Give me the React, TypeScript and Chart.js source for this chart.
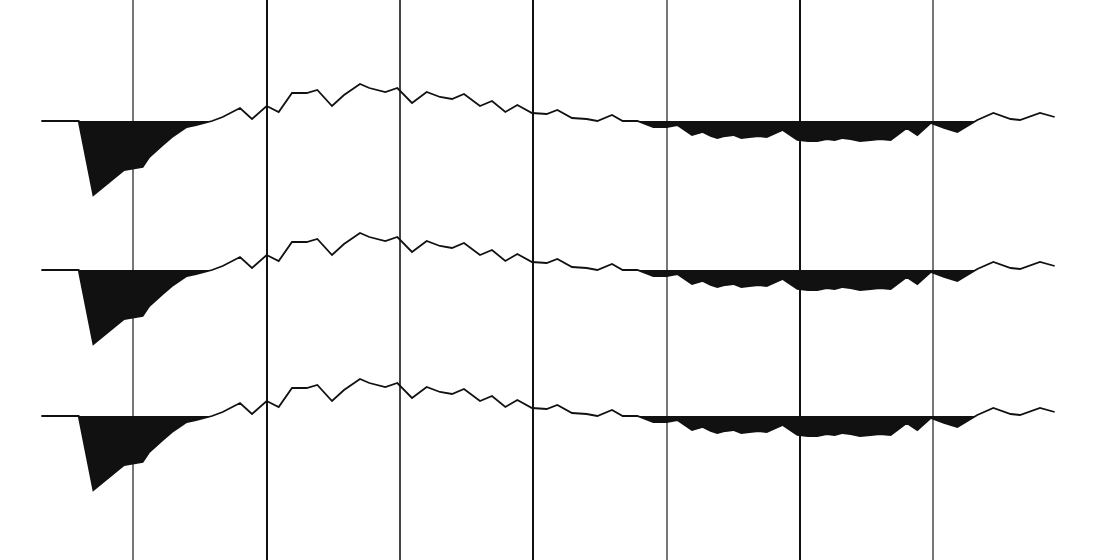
import { useEffect, useRef } from "react";
import { Chart, registerables } from "chart.js";

Chart.register(...registerables);

// sample times (ms) and trace amplitude (same wavelet on every trace)
const times = [
  31, 59, 70, 93, 107, 112, 122, 129, 140, 147, 159, 167, 180, 189, 200, 209,
  219, 230, 238, 249, 258, 270, 277, 289, 298, 309, 320, 330, 339, 348, 360,
  369, 379, 388, 399, 410, 418, 429, 440, 448, 459, 467, 478, 490, 500, 508,
  519, 527, 533, 538, 544, 550, 556, 562, 569, 575, 587, 598, 606, 613, 620,
  626, 632, 638, 645, 653, 660, 668, 680, 688, 698, 708, 718, 733, 745, 758,
  765, 780, 791,
];
const amplitude = [
  0, 0, -74, -49, -46, -36, -24, -16, -6, -4, 0, 4, 13, 2, 15, 9,
  28, 28, 31, 15, 26, 37, 33, 29, 33, 18, 29, 24, 22, 27, 15,
  20, 9, 16, 8, 7, 11, 3, 2, 0, 6, 0, 0, -6, -6, -4,
  -14, -11, -15, -17, -15, -14, -17, -16, -15, -16, -9, -19, -20, -20, -18,
  -19, -17, -18, -20, -19, -18, -19, -7, -14, -2, -7, -11, 1, 8, 2,
  1, 8, 4,
];
// baseline of each trace on the vertical axis
const traceBaselines = [439, 290, 144];
// vertical timing lines
const timingLines = [100, 200, 300, 400, 500, 600, 700];
const timingColors = ["#777", "#111", "#444", "#111", "#777", "#111", "#777"];

export default function App() {
  const chartRef = useRef<HTMLCanvasElement | null>(null);

  useEffect(() => {
    document.body.style.margin = "0";
    if (!chartRef.current) return;
    const ctx = chartRef.current.getContext("2d");
    if (!ctx) return;

    const datasets = traceBaselines.map((base, i) => ({
      label: `trace ${i + 1}`,
      data: times.map((t, k) => ({ x: t, y: base + amplitude[k] })),
      borderColor: "#111",
      borderWidth: 1.8,
      pointRadius: 0,
      tension: 0,
      fill: {
        target: { value: base },
        above: "rgba(0,0,0,0)",
        below: "#111",
      },
    }));

    const chart = new Chart(ctx, {
      type: "line",
      data: { datasets },
      options: {
        animation: false,
        responsive: false,
        layout: { padding: 0 },
        plugins: {
          legend: { display: false },
          tooltip: { enabled: false },
        },
        scales: {
          x: {
            type: "linear",
            min: 0,
            max: 825,
            afterBuildTicks: (scale: any) => {
              scale.ticks = timingLines.map((v) => ({ value: v }));
            },
            ticks: { display: false, padding: 0 },
            border: { display: false },
            grid: {
              drawTicks: false,
              lineWidth: 2,
              color: (c: any) => timingColors[c.index] ?? "#555",
            },
          },
          y: {
            display: false,
            min: 0,
            max: 560,
          },
        },
      },
    });

    return () => {
      chart.destroy();
    };
  }, []);

  return (
    <div style={{ width: 1100, height: 560, background: "#fff" }}>
      <canvas ref={chartRef} width={1100} height={560}></canvas>
    </div>
  );
}
